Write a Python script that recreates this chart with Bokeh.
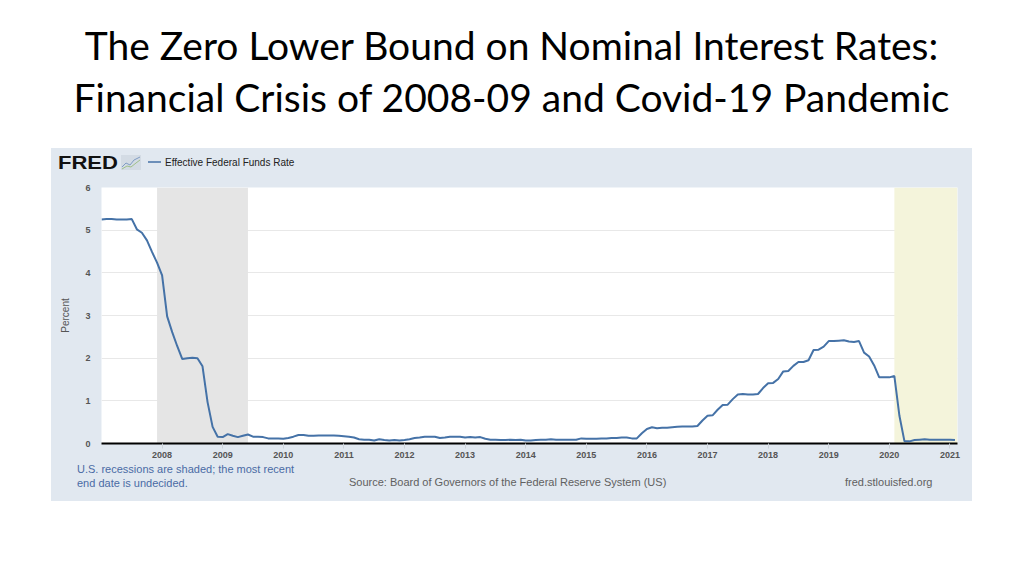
from bokeh.plotting import figure
from bokeh.models import Div, BoxAnnotation, FixedTicker, Range1d
from bokeh.layouts import column
from bokeh.embed import file_html
from bokeh.resources import INLINE

title_lines = ["The Zero Lower Bound on Nominal Interest Rates:",
               "Financial Crisis of 2008-09 and Covid-19 Pandemic"]
series_name = "Effective Federal Funds Rate"

# Monthly effective federal funds rate (percent), Jan 2007 - Feb 2021
effr_2007 = [5.25, 5.26, 5.26, 5.25, 5.25, 5.25, 5.26, 5.02, 4.94, 4.76, 4.49, 4.24]
effr_2008 = [3.94, 2.98, 2.61, 2.28, 1.98, 2.00, 2.01, 2.00, 1.81, 0.97, 0.39, 0.16]
effr_2009 = [0.15, 0.22, 0.18, 0.15, 0.18, 0.21, 0.16, 0.16, 0.15, 0.12, 0.12, 0.12]
effr_2010 = [0.11, 0.13, 0.16, 0.20, 0.20, 0.18, 0.18, 0.19, 0.19, 0.19, 0.19, 0.18]
effr_2011 = [0.17, 0.16, 0.14, 0.10, 0.09, 0.09, 0.07, 0.10, 0.08, 0.07, 0.08, 0.07]
effr_2012 = [0.08, 0.10, 0.13, 0.14, 0.16, 0.16, 0.16, 0.13, 0.14, 0.16, 0.16, 0.16]
effr_2013 = [0.14, 0.15, 0.14, 0.15, 0.11, 0.09, 0.09, 0.08, 0.08, 0.09, 0.08, 0.09]
effr_2014 = [0.07, 0.07, 0.08, 0.09, 0.09, 0.10, 0.09, 0.09, 0.09, 0.09, 0.09, 0.12]
effr_2015 = [0.11, 0.11, 0.11, 0.12, 0.12, 0.13, 0.13, 0.14, 0.14, 0.12, 0.12, 0.24]
effr_2016 = [0.34, 0.38, 0.36, 0.37, 0.37, 0.38, 0.39, 0.40, 0.40, 0.40, 0.41, 0.54]
effr_2017 = [0.65, 0.66, 0.79, 0.90, 0.91, 1.04, 1.15, 1.16, 1.15, 1.15, 1.16, 1.30]
effr_2018 = [1.41, 1.42, 1.51, 1.69, 1.70, 1.82, 1.91, 1.91, 1.95, 2.19, 2.20, 2.27]
effr_2019 = [2.40, 2.40, 2.41, 2.42, 2.39, 2.38, 2.40, 2.13, 2.04, 1.83, 1.55, 1.55]
effr_2020 = [1.55, 1.58, 0.65, 0.05, 0.05, 0.08, 0.09, 0.10, 0.09, 0.09, 0.09, 0.09]
effr_2021 = [0.09, 0.08]

by_year = [(2007, effr_2007), (2008, effr_2008), (2009, effr_2009), (2010, effr_2010),
           (2011, effr_2011), (2012, effr_2012), (2013, effr_2013), (2014, effr_2014),
           (2015, effr_2015), (2016, effr_2016), (2017, effr_2017), (2018, effr_2018),
           (2019, effr_2019), (2020, effr_2020), (2021, effr_2021)]

t = []
rate = []
for yr, vals in by_year:
    for m, v in enumerate(vals):
        t.append(yr + m / 12.0)
        rate.append(v)

tick_years = list(range(2008, 2022))
y_ticks = [0, 1, 2, 3, 4, 5, 6]
recessions = [(2007 + 11 / 12.0, 2009 + 5 / 12.0), (2020 + 1 / 12.0, None)]
recession_colors = ["#e5e5e5", "#f4f4db"]

note_lines = ["U.S. recessions are shaded; the most recent", "end date is undecided."]
source_text = "Source: Board of Governors of the Federal Reserve System (US)"
site_text = "fred.stlouisfed.org"

PANEL = "#e1e8f0"
LINE = "#4572a7"
FONT = "Liberation Sans"
PANEL_W = 921
LEFT = 51

# ---- title ----
title_div = Div(
    text=('<div style="font-family:Lato; font-size:39px; line-height:52px; '
          'text-align:center; color:#000; padding-top:19px; padding-left:7px; '
          'box-sizing:border-box; width:1016px;">'
          + title_lines[0] + "<br>" + title_lines[1] + "</div>"),
    width=1016, height=148, margin=(0, 0, 0, 0))


def svg_text(x, y, s, size, color, weight="normal", font=FONT, extra=""):
    return ('<text x="%g" y="%g" font-family="%s" font-size="%gpx" font-weight="%s" '
            'fill="%s" dominant-baseline="central"%s>%s</text>'
            % (x, y, font, size, weight, color, extra, s))


strip_styles = {"background-color": PANEL, "overflow": "hidden", "line-height": "0"}

# ---- top strip: logo + legend ----
TOP_H = 31
top_svg = ('<svg width="%d" height="%d" style="display:block">' % (PANEL_W, TOP_H + 1)
           + '<rect width="%d" height="%d" fill="%s"/>' % (PANEL_W, TOP_H + 1, PANEL)
           + svg_text(7, 14.5, "FRED", 19, "#111111", "bold", "DejaVu Sans",
                      ' textLength="60" lengthAdjust="spacingAndGlyphs"')
           + '<rect x="70" y="7" width="20" height="15" fill="#d3dbe4"/>'
           + '<polyline points="71,19 75,15 79,17 83,12 89,9" fill="none" stroke="#7f9cc4" stroke-width="1"/>'
           + '<polyline points="71,21 76,18 80,19 85,15 89,12" fill="none" stroke="#9fc08a" stroke-width="1"/>'
           + '<line x1="97" y1="14" x2="110" y2="14" stroke="%s" stroke-width="1.5"/>' % LINE
           + svg_text(114, 14, series_name, 10, "#222222")
           + '</svg>')
top = Div(text=top_svg, width=PANEL_W, height=TOP_H, margin=(0, 0, 0, 0),
          styles=strip_styles)

# ---- main chart ----
x0, x1 = 2007.0, 2021.125
p = figure(width=PANEL_W, height=284, output_backend="svg", toolbar_location=None,
           x_range=Range1d(x0, x1), y_range=Range1d(0, 6),
           min_border_left=50, min_border_right=15, min_border_top=8, min_border_bottom=20,
           margin=(0, 0, 0, 0))
p.background_fill_color = "white"
p.border_fill_color = PANEL
p.outline_line_color = None

for (a, b), c in zip(recessions, recession_colors):
    p.add_layout(BoxAnnotation(left=a, right=b if b is not None else x1, fill_color=c,
                               fill_alpha=1.0, line_color=None, level="underlay"))

p.line(t, rate, line_color=LINE, line_width=2)

p.xgrid.visible = False
p.ygrid.ticker = FixedTicker(ticks=y_ticks)
p.ygrid.grid_line_color = "#e8e8e8"

p.xaxis.ticker = FixedTicker(ticks=tick_years)
p.xaxis.axis_line_color = "black"
p.xaxis.axis_line_width = 2
p.xaxis.major_tick_line_color = "#cdd3da"
p.xaxis.major_tick_in = 0
p.xaxis.major_tick_out = 5
p.xaxis.minor_tick_line_color = None
p.xaxis.major_label_text_font = FONT
p.xaxis.major_label_text_font_size = "9px"
p.xaxis.major_label_text_font_style = "bold"
p.xaxis.major_label_text_color = "#555555"
p.xaxis.major_label_standoff = 3

p.yaxis.ticker = FixedTicker(ticks=y_ticks)
p.yaxis.axis_line_color = None
p.yaxis.major_tick_line_color = None
p.yaxis.major_tick_in = 0
p.yaxis.major_tick_out = 0
p.yaxis.minor_tick_line_color = None
p.yaxis.major_label_text_font = FONT
p.yaxis.major_label_text_font_size = "9px"
p.yaxis.major_label_text_font_style = "bold"
p.yaxis.major_label_text_color = "#555555"
p.yaxis.major_label_standoff = 11
p.yaxis.axis_label = "Percent"
p.yaxis.axis_label_text_font = FONT
p.yaxis.axis_label_text_font_size = "10px"
p.yaxis.axis_label_text_font_style = "normal"
p.yaxis.axis_label_text_color = "#555555"
p.yaxis.axis_label_standoff = 11

# ---- bottom strip: notes and source ----
BOT_H = 38
bot_svg = ('<svg width="%d" height="%d" style="display:block">' % (PANEL_W, BOT_H)
           + '<rect width="%d" height="%d" fill="%s"/>' % (PANEL_W, BOT_H, PANEL)
           + svg_text(26, 6, note_lines[0], 11, "#4a6ba5")
           + svg_text(26, 20, note_lines[1], 11, "#4a6ba5")
           + svg_text(298, 19, source_text, 11, "#606060")
           + svg_text(794, 19, site_text, 11, "#606060")
           + '</svg>')
bot = Div(text=bot_svg, width=PANEL_W, height=BOT_H, margin=(0, 0, 0, 0),
          styles=strip_styles)

panel = column(top, p, bot, margin=(0, 0, 0, LEFT), spacing=0,
               styles={"background-color": PANEL})
layout = column(title_div, panel, margin=(0, 0, 0, 0), spacing=0)
open("out.html", "w").write(file_html(layout, INLINE))
